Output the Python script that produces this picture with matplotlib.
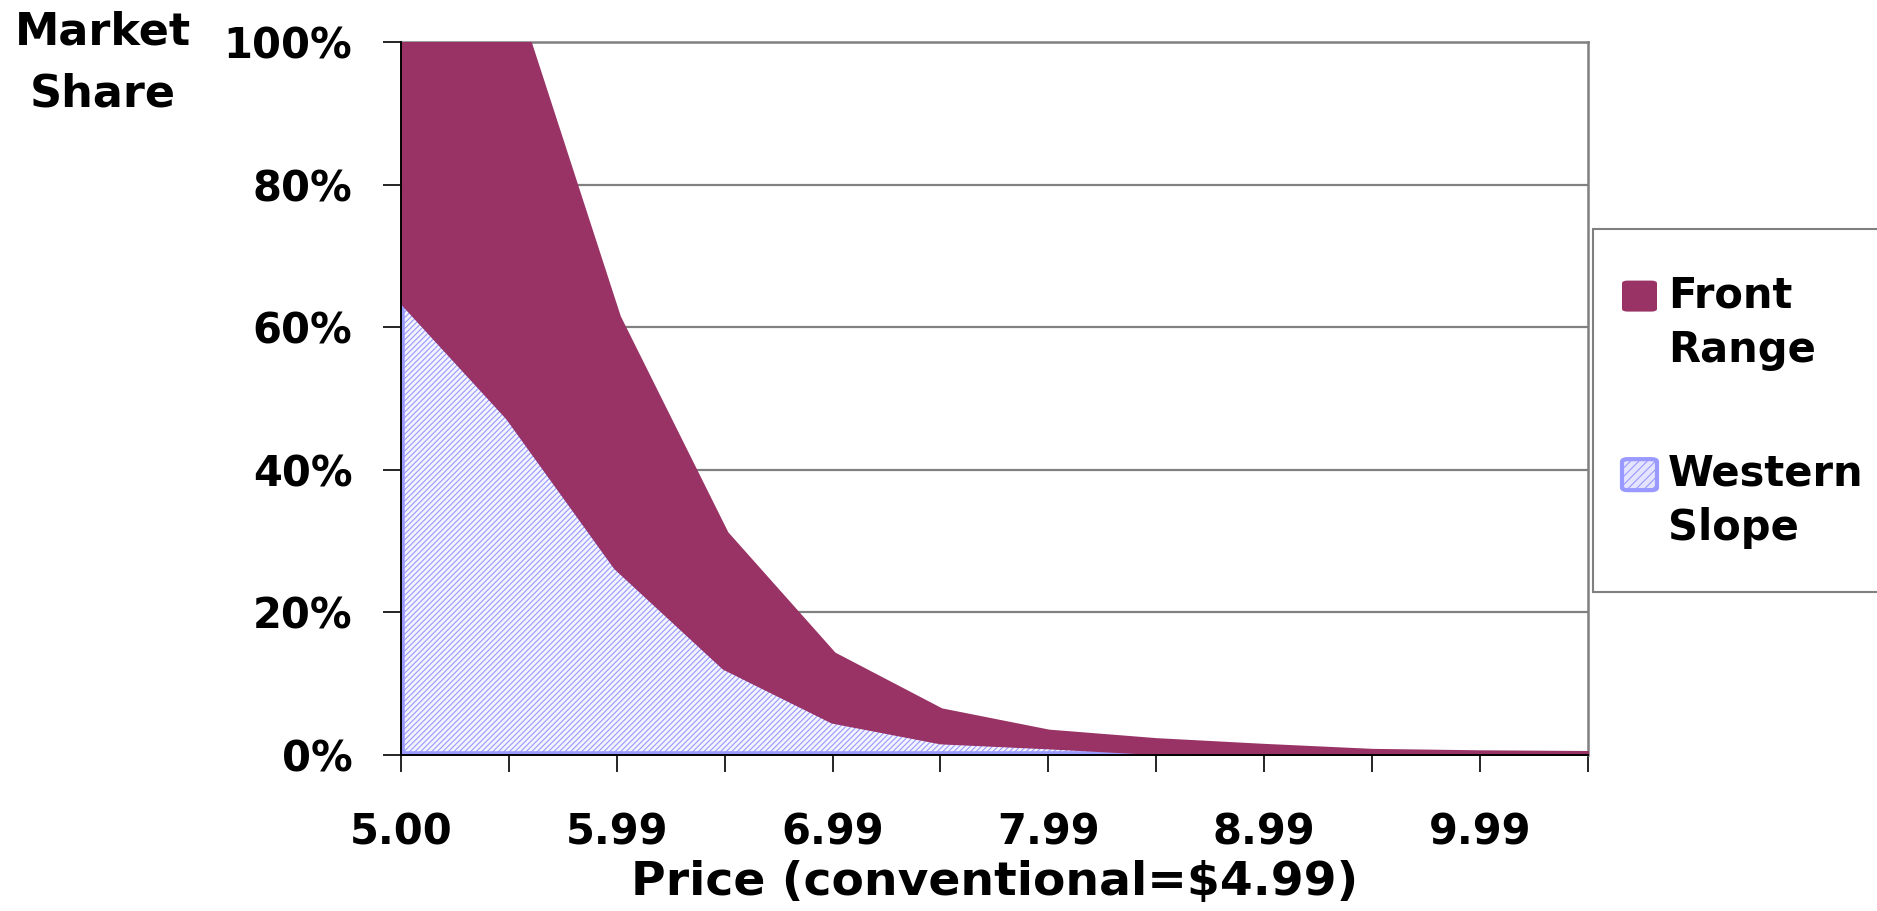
import matplotlib
matplotlib.use("Agg")
import matplotlib.pyplot as plt
from matplotlib.patches import Rectangle, FancyBboxPatch
from matplotlib.ticker import FixedLocator, PercentFormatter
import numpy as np

# price points (every other one is labelled on the axis)
prices = [5.00, 5.49, 5.99, 6.49, 6.99, 7.49, 7.99, 8.49, 8.99, 9.49, 9.99, 10.49]
# market share, percent, stacked: western slope at the bottom, front range on top
western_slope = [64.0, 47.5, 26.5, 12.5, 5.0, 2.1, 1.4, 0.6, 0.3, 0.1, 0.0, 0.0]
front_range = [36.0, 60.5, 34.9, 18.5, 9.0, 4.0, 1.7, 1.3, 0.8, 0.3, 0.2, 0.1]
series_names = ["Front\nRange", "Western\nSlope"]

PURPLE = "#993366"
LAVENDER = "#9999FF"
GRID = "#808080"

plt.rcParams["font.family"] = "DejaVu Sans"
plt.rcParams["font.weight"] = "bold"
plt.rcParams["hatch.linewidth"] = 0.8

fig = plt.figure(figsize=(18.77, 9.11), dpi=100)
ax = fig.add_axes([0.2136, 0.1712, 0.6324, 0.7827])

x = np.arange(len(prices))
ws = np.array(western_slope)
total = ws + np.array(front_range)

ax.fill_between(x, 0, ws, facecolor="#F4F4FF", edgecolor=LAVENDER,
                hatch="//////", linewidth=5.5, zorder=2)
ax.fill_between(x, ws, total, facecolor=PURPLE, edgecolor=PURPLE,
                linewidth=5.5, zorder=3)

ax.set_xlim(0, len(prices) - 1)
ax.set_ylim(0, 100)

ax.yaxis.set_major_locator(FixedLocator([0, 20, 40, 60, 80, 100]))
ax.yaxis.set_major_formatter(PercentFormatter(decimals=0))
ax.set_xticks(x)
ax.set_xticklabels([f"{p:.2f}" if i % 2 == 0 else "" for i, p in enumerate(prices)])

ax.tick_params(axis="y", length=13, width=1.2, pad=22, labelsize=30, color="black")
ax.tick_params(axis="x", length=12, width=1.2, pad=29, labelsize=30, color="black")

ax.grid(axis="y", color=GRID, linewidth=1.6, zorder=1)
ax.grid(axis="x", visible=False)
ax.set_axisbelow(True)

for side in ("left", "bottom"):
    ax.spines[side].set_color("black")
    ax.spines[side].set_linewidth(1.4)
    ax.spines[side].set_zorder(5)
for side in ("top", "right"):
    ax.spines[side].set_color(GRID)
    ax.spines[side].set_linewidth(1.8)

ax.set_xlabel("Price (conventional=$4.99)", fontsize=34, fontweight="bold")
ax.xaxis.set_label_coords(0.5, -0.147)

fig.text(0.055, 0.988, "Market\nShare", ha="center", va="top",
         fontsize=32, fontweight="bold", linespacing=1.55)

# legend box, running off the right edge
fig.patches.append(Rectangle((0.8487, 0.350), 0.2, 0.3986, transform=fig.transFigure,
                             facecolor="white", edgecolor=GRID, linewidth=1.5,
                             clip_on=False))
legend_items = [(0.6920, PURPLE, PURPLE, None, 0), (0.4960, "#E4E4FF", LAVENDER, "////", 3)]
for (ytop, fc, ec, hatch, lw), name in zip(legend_items, series_names):
    h = 31 / 911
    w = 35 / 1877
    fig.patches.append(FancyBboxPatch((1622 / 1877, ytop - h), w, h,
                                      boxstyle="round,pad=0,rounding_size=0.003",
                                      transform=fig.transFigure, facecolor=fc,
                                      edgecolor=ec, linewidth=lw, hatch=hatch))
    fig.text(1668 / 1877, ytop + 0.007, name, ha="left", va="top",
             fontsize=30, fontweight="bold", linespacing=1.38)

fig.savefig("out.png", dpi=100)
